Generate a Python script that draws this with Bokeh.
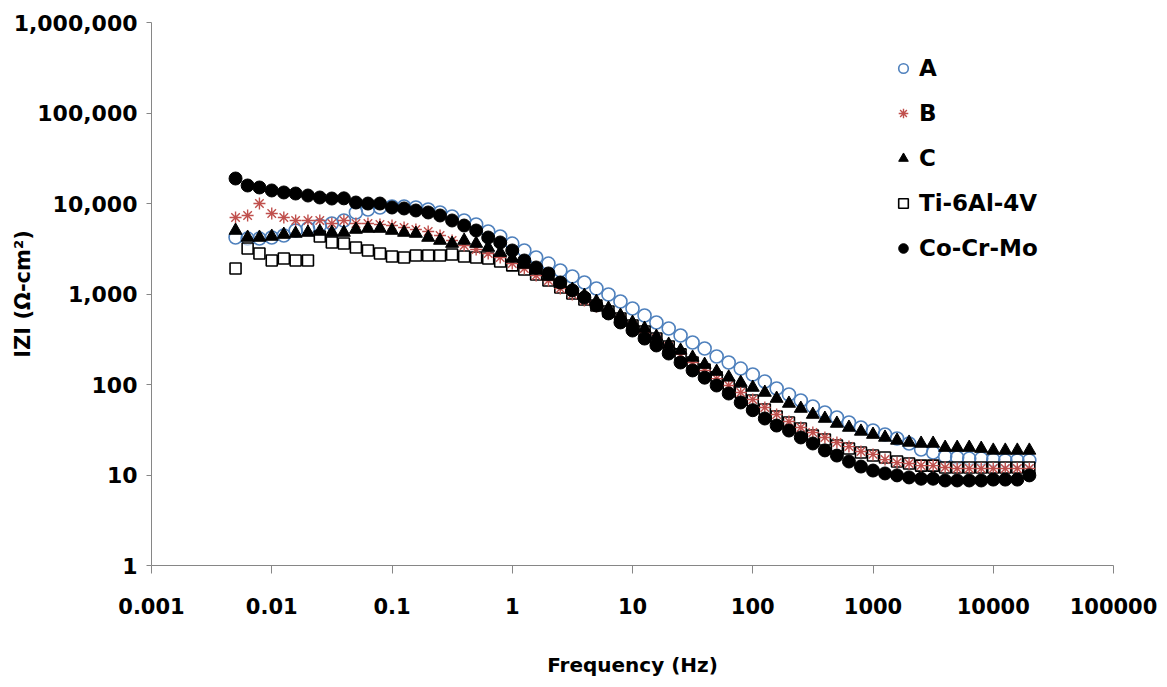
import math
from bokeh.plotting import figure
from bokeh.models import (FixedTicker, CustomJSTickFormatter, Legend, LegendItem, Range1d)
from bokeh.embed import file_html
from bokeh.resources import INLINE

# ---------------- data ----------------
freq_hz = [0.005, 0.0063, 0.0079,
           0.01, 0.0126, 0.0158, 0.02, 0.0251, 0.0316, 0.0398, 0.0501, 0.0631, 0.0794,
           0.1, 0.126, 0.158, 0.2, 0.251, 0.316, 0.398, 0.501, 0.631, 0.794,
           1.0, 1.26, 1.58, 2.0, 2.51, 3.16, 3.98, 5.01, 6.31, 7.94,
           10.0, 12.6, 15.8, 20.0, 25.1, 31.6, 39.8, 50.1, 63.1, 79.4,
           100, 126, 158, 200, 251, 316, 398, 501, 631, 794,
           1000, 1259, 1585, 1995, 2512, 3162, 3981, 5012, 6310, 7943,
           10000, 12589, 15849, 19953]

z_A = [4210, 4100, 4100, 4210, 4430, 5030, 5290, 5710, 6010, 6490,
       7960, 8590, 9030, 9270, 9270, 9030, 8590, 7960, 7180, 6490,
       5860, 4910, 4320, 3610, 3025, 2530, 2170, 1820, 1560, 1341,
       1151, 987, 826, 692, 579, 484, 416, 348, 291, 250,
       204, 175, 150, 129, 108, 90.3, 77.6, 66.6, 57.2, 49.1,
       43.2, 38.0, 33.5, 31.0, 28.0, 25.3, 22.3, 19.1, 17.7, 16.0,
       15.6, 15.2, 15.2, 14.8, 14.5, 14.5, 14.5]

z_B = [7000, 7370, 9990, 7760, 7000, 6490, 6490, 6490, 6010, 6490,
       6010, 6010, 5860, 5710, 5430, 5160, 4910, 4430, 3900, 3440,
       3100, 2800, 2530, 2170, 1914, 1600, 1410, 1151, 987, 847,
       728, 625, 536, 449, 376, 322, 263, 215, 175, 143,
       116, 97.5, 81.6, 68.3, 55.7, 46.6, 39.0, 33.5, 29.5, 26.0,
       22.9, 20.6, 18.2, 16.9, 14.8, 13.7, 13.4, 12.7, 12.7, 12.1,
       11.8, 11.8, 11.8, 11.8, 11.8, 11.8, 11.8]

z_C = [5030, 4210, 4210, 4320, 4540, 4660, 4780, 4910, 4780, 4780,
       5160, 5290, 5290, 5030, 4780, 4660, 4210, 3900, 3610, 3900,
       3610, 3260, 2870, 2470, 2118, 1820, 1560, 1306, 1122, 962,
       826, 692, 579, 484, 416, 339, 277, 238, 199, 166,
       139, 120, 105, 92.7, 81.6, 70.0, 61.7, 54.3, 46.6, 42.1,
       37.1, 33.5, 30.3, 28.0, 26.0, 24.1, 22.9, 22.3, 22.3, 20.1,
       20.1, 20.1, 19.6, 18.7, 18.7, 18.7, 18.7]

z_Ti = [1914, 3180, 2800, 2345, 2470, 2345, 2345, 4320, 3710, 3610,
        3260, 3025, 2800, 2600, 2530, 2660, 2660, 2660, 2730, 2600,
        2530, 2470, 2290, 2070, 1866, 1643, 1410, 1180, 1014, 869,
        747, 641, 536, 449, 385, 322, 263, 215, 175, 146,
        120, 97.5, 81.6, 66.6, 53.0, 44.3, 38.0, 32.6, 27.3, 24.7,
        21.2, 19.6, 17.7, 16.4, 15.6, 14.1, 13.4, 12.7, 12.7, 12.1,
        12.1, 12.1, 12.1, 12.1, 12.1, 12.1, 12.1]

z_CoCrMo = [18890, 15810, 15030, 13930, 13240, 12890, 12250, 11650, 11350, 11400,
            10250, 9990, 9990, 9030, 8810, 8370, 7960, 7370, 6490, 5710,
            5030, 4210, 3710, 3025, 2345, 1963, 1686, 1341, 1094, 915,
            747, 610, 485, 395, 322, 270, 220, 175, 143, 119,
            97.5, 79.5, 63.3, 52.0, 42.1, 35.2, 31.0, 26.0, 22.3, 18.7,
            16.4, 14.1, 12.4, 11.2, 10.4, 9.9, 9.4, 9.1, 9.1, 8.7,
            8.7, 8.7, 8.7, 8.9, 8.9, 8.9, 9.9]

x_ticks = [0.001, 0.01, 0.1, 1, 10, 100, 1000, 10000, 100000]
x_tick_labels = ["0.001", "0.01", "0.1", "1", "10", "100", "1000", "10000", "100000"]
y_ticks = [1, 10, 100, 1000, 10000, 100000, 1000000]
y_tick_labels = ["1", "10", "100", "1,000", "10,000", "100,000", "1,000,000"]

series_names = ["A", "B", "C", "Ti-6Al-4V", "Co-Cr-Mo"]

# ---------------- figure ----------------
FONT = "DejaVu Sans"
AXIS_GRAY = "#868686"

W, H = 1160, 686
BL, BR, BT, BB = 151, 47, 22, 121

p = figure(width=W, height=H, x_axis_type="log", y_axis_type="log",
           x_range=Range1d(x_ticks[0], x_ticks[-1]), y_range=Range1d(y_ticks[0], y_ticks[-1]),
           output_backend="svg", toolbar_location=None,
           min_border_left=BL, min_border_right=BR,
           min_border_top=BT, min_border_bottom=BB)
p.outline_line_color = None
p.xgrid.visible = False
p.ygrid.visible = False
p.background_fill_color = "white"
p.border_fill_color = "white"

fmt_code = """
const i = tvals.findIndex(t => Math.abs(Math.log10(t) - Math.log10(tick)) < 1e-6);
return i >= 0 ? tlabels[i] : "";
"""

xa = p.xaxis[0]
xa.ticker = FixedTicker(ticks=x_ticks)
xa.formatter = CustomJSTickFormatter(args=dict(tvals=x_ticks, tlabels=x_tick_labels), code=fmt_code)
ya = p.yaxis[0]
ya.ticker = FixedTicker(ticks=y_ticks)
ya.formatter = CustomJSTickFormatter(args=dict(tvals=y_ticks, tlabels=y_tick_labels), code=fmt_code)

for ax in (xa, ya):
    ax.axis_line_color = AXIS_GRAY
    ax.axis_line_width = 1
    ax.major_tick_line_color = AXIS_GRAY
    ax.minor_tick_line_color = None
    ax.major_tick_in = 0
    ax.major_label_text_font = FONT
    ax.major_label_text_font_style = "bold"
    ax.major_label_text_color = "black"
    ax.axis_label_text_font = FONT
    ax.axis_label_text_font_style = "bold"
    ax.axis_label_text_color = "black"

xa.major_tick_out = 8
xa.major_label_standoff = 24
xa.major_label_text_font_size = "21px"
xa.axis_label = "Frequency (Hz)"
xa.axis_label_text_font_size = "20px"
xa.axis_label_standoff = 36

ya.major_tick_out = 5
ya.major_label_standoff = 9
ya.major_label_text_font_size = "22px"
ya.axis_label = "IZI (Ω-cm²)"
ya.axis_label_text_font_size = "21px"
ya.axis_label_standoff = -24

# ---------------- series ----------------
BLUE = "#4F81BD"
RED = "#C0504D"

rA = p.scatter(freq_hz, z_A, marker="circle", size=13, fill_color=None,
               line_color=BLUE, line_width=1.6)
rTi = p.scatter(freq_hz, z_Ti, marker="square", size=11, fill_color="white",
                fill_alpha=0.6, line_color="black", line_width=1.6)
rB = p.scatter(freq_hz, z_B, marker="asterisk", size=12, line_color=RED,
               line_width=1.4)
rCo = p.scatter(freq_hz, z_CoCrMo, marker="circle", size=13, fill_color="black",
                line_color="black", line_width=1)
rC = p.scatter(freq_hz, z_C, marker="triangle", size=13, fill_color="black",
               line_color="black", line_width=1)

renderers = [rA, rB, rC, rTi, rCo]
legend = Legend(items=[LegendItem(label=n, renderers=[r]) for n, r in zip(series_names, renderers)],
                location=(740, 304), background_fill_alpha=0, border_line_color=None,
                padding=0, margin=0, spacing=19, glyph_width=24, glyph_height=24,
                label_standoff=4, label_text_font=FONT, label_text_font_style="bold",
                label_text_font_size="23px", label_text_color="black")
p.add_layout(legend)

open("out.html", "w").write(file_html(p, INLINE))
